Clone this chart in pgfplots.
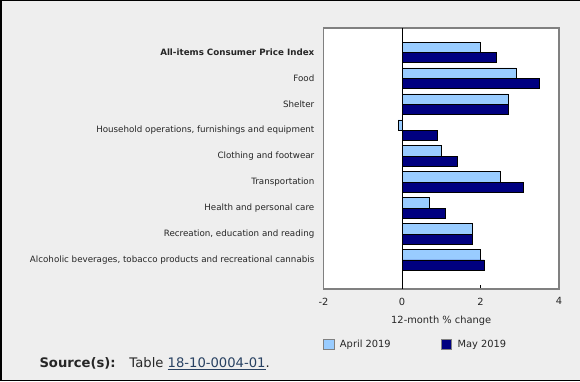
\documentclass[border=0pt]{standalone}
\usepackage{pgfplots}
\pgfplotsset{compat=1.18}
\usepackage{fontspec}
\setmainfont{DejaVu Sans}
\definecolor{bgc}{HTML}{EEEEEE}
\definecolor{apr}{HTML}{99CCFF}
\definecolor{may}{HTML}{000080}
\definecolor{frame}{HTML}{808080}
\definecolor{linkc}{HTML}{284162}
\begin{document}
\begin{tikzpicture}[x=1bp,y=1bp]
\fill[bgc] (0,0) rectangle (580,381);
\draw[black, line width=1.5bp] (0.75,0.75) -- (0.75,380.25);
\draw[black, line width=1.5bp] (0,380.25) -- (580,380.25);
\draw[black, line width=1.5bp] (0,0.75) -- (580,0.75);
\begin{axis}[
  at={(323.5bp,92bp)}, anchor=south west,
  width=235.5bp, height=261bp, scale only axis,
  axis background/.style={fill=white},
  axis line style={frame, line width=1.2bp},
  xmin=-2, xmax=4,
  xtick={-2,0,2,4},
  xticklabels={-2,0,2,4},
  tick align=inside,
  xtick pos=bottom,
  major tick length=4bp,
  tick style={black, line width=0.6bp},
  ymin=-0.94, ymax=9.12,
  y dir=reverse,
  ytick={0,...,8},
  ytick style={draw=none},
  yticklabels={{\textbf{All-items Consumer Price Index}},Food,Shelter,{Household operations, furnishings and equipment},{Clothing and footwear},Transportation,{Health and personal care},{Recreation, education and reading},{Alcoholic beverages, tobacco products and recreational cannabis}},
  yticklabel style={font=\fontsize{8.75}{10}\selectfont, text=black!85, inner sep=0pt, anchor=east},
  yticklabel shift=5bp,
  xticklabel style={font=\fontsize{9.9}{11}\selectfont, text=black!85, inner sep=0pt, anchor=north},
  xticklabel shift=8.5bp,
  xlabel={12-month \% change},
  xlabel style={font=\fontsize{9.9}{11}\selectfont, text=black!85, at={(axis description cs:0.5,0)}, anchor=center, yshift=-31.5bp},
  xbar, bar width=0.4,
  legend style={draw=none, fill=none, at={(axis description cs:0,0)}, anchor=north west, xshift=-0.5bp, yshift=-49bp, legend columns=2, font=\fontsize{9.9}{11}\selectfont, text=black!85, inner sep=0pt, /tikz/every odd column/.append style={column sep=3.5bp}, /tikz/every even column/.append style={column sep=48bp}},
  legend image code/.code={\draw[#1, draw=frame, line width=0.8bp] (0bp,-5bp) rectangle (10.5bp,5.5bp);},
  clip=false,
]
\addplot[bar shift=-0.2, fill=apr, draw=black, line width=0.6bp] coordinates {
(2.0,0) (2.9,1) (2.7,2) (-0.1,3) (1.0,4) (2.5,5) (0.7,6) (1.8,7) (2.0,8)};
\addplot[bar shift=0.2, fill=may, draw=black, line width=0.6bp] coordinates {
(2.4,0) (3.5,1) (2.7,2) (0.9,3) (1.4,4) (3.1,5) (1.1,6) (1.8,7) (2.1,8)};
\legend{April 2019, May 2019}
\draw[black, line width=0.8bp] (axis cs:0,-0.94) -- (axis cs:0,9.12);
\end{axis}
\node[anchor=west, inner sep=0pt, font=\fontsize{13.2}{15}\selectfont, text=black!85] at (39.3bp,17.5bp) {\textbf{Source(s):}\hspace{1.05em}Table \textcolor{linkc}{\underline{18-10-0004-01}}.};
\pgfresetboundingbox
\useasboundingbox (0,0) rectangle (580,381);
\end{tikzpicture}
\end{document}
